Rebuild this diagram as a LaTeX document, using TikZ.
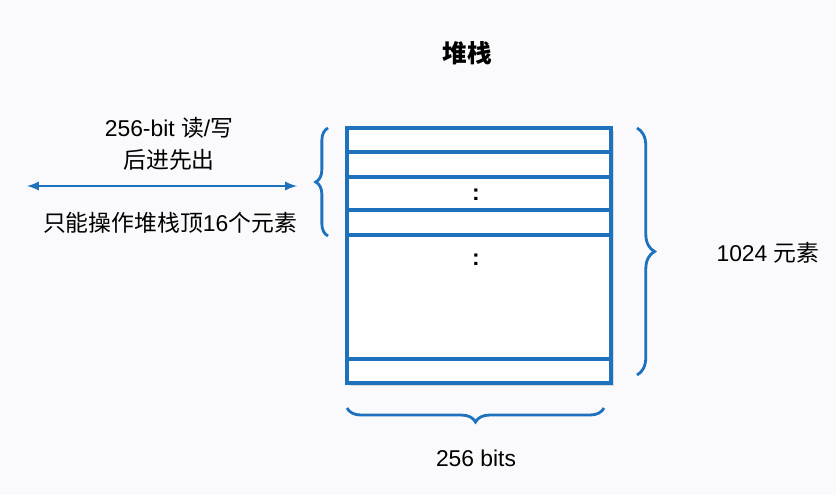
\documentclass[tikz,border=0pt]{standalone}
\usepackage{fontspec}
\setmainfont{Liberation Sans}
\newfontfamily\cjk{Noto Sans CJK SC}
\usepackage{tikz}
\usetikzlibrary{arrows}
\usetikzlibrary{decorations.pathreplacing}
\definecolor{stackblue}{RGB}{30,114,189}
\definecolor{bgcol}{RGB}{250,250,252}
\tikzset{l/.style={font=\fontsize{13}{15}\selectfont}}
\tikzset{t/.style={font=\fontsize{14}{16}\selectfont\bfseries}}
\tikzset{br/.style={draw=stackblue,line width=1.6pt,decorate}}
\tikzset{row/.style={draw=stackblue,line width=2pt}}

\begin{document}
\begin{tikzpicture}[x=0.02cm,y=-0.02cm]
    \fill[bgcol] (0,0) rectangle (836,495);
    \useasboundingbox (0,0) rectangle (836,495);
    % stack
    \fill[black!14] (350,131) rectangle (614,386);
    \fill[white] (347,128) rectangle (611,383);
    \draw[row] (347,128) rectangle (611,383);
    \foreach \y in {152,177,210,235,359} \draw[row] (347,\y)--(611,\y);
    \node[font=\fontsize{13}{15}\selectfont\bfseries] (dotsa) at (476,195) {:};
    \node[font=\fontsize{13}{15}\selectfont\bfseries] (dotsb) at (476,260) {:};
    \node[t] (title) at (467,53) {\cjk 堆栈};
    % left side
    \node[l] (rw) at (169,128) {256-bit {\cjk 读}/{\cjk 写}};
    \node[l] (lifo) at (169,160) {\cjk 后进先出};
    \node[l] (top) at (170,223) {{\cjk 只能操作堆栈顶}16{\cjk 个元素}};
    \coordinate (al) at (27,186);
    \coordinate (ar) at (297,186);
    \draw[stackblue,line width=1.3pt,latex-latex] (al)--(ar);
    % braces
    \coordinate (lb) at (328,236);
    \coordinate (lt) at (328,128);
    \draw[br,decoration={brace,amplitude=7pt}] (lb)--(lt);
    \coordinate (rt) at (637,128);
    \coordinate (rb) at (637,375);
    \draw[br,decoration={brace,amplitude=10pt}] (rt)--(rb);
    \coordinate (br) at (604,408);
    \coordinate (bl) at (347,408);
    \draw[br,decoration={brace,amplitude=8pt}] (br)--(bl);
    \node[l] (depth) at (768,253) {1024 {\cjk 元素}};
    \node[l] (width) at (476,458) {256 bits};
\end{tikzpicture}
\end{document}
